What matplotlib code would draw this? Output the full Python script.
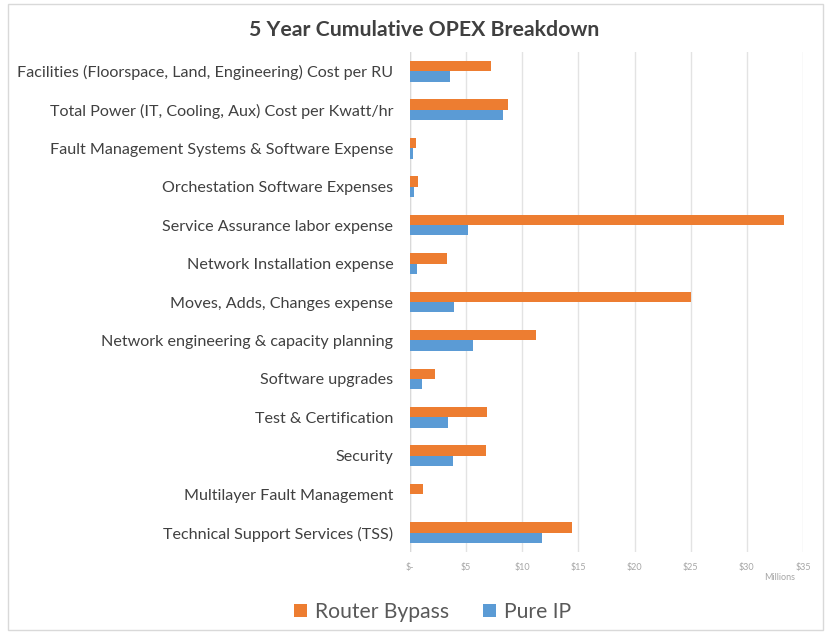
import numpy as np
import matplotlib.pyplot as plt
from matplotlib.patches import Rectangle

plt.rcParams['font.family'] = ['Lato', 'DejaVu Sans']

categories = [
    "Facilities (Floorspace, Land, Engineering) Cost per RU",
    "Total Power (IT, Cooling, Aux) Cost per Kwatt/hr",
    "Fault Management Systems & Software Expense",
    "Orchestation Software Expenses",
    "Service Assurance labor expense",
    "Network Installation expense",
    "Moves, Adds, Changes expense",
    "Network engineering & capacity planning",
    "Software upgrades",
    "Test & Certification",
    "Security",
    "Multilayer Fault Management",
    "Technical Support Services (TSS)",
]
router_bypass = [7.2, 8.75, 0.5, 0.75, 33.3, 3.3, 25.0, 11.2, 2.2, 6.9, 6.8, 1.2, 14.4]
pure_ip = [3.6, 8.25, 0.3, 0.35, 5.2, 0.6, 3.9, 5.6, 1.1, 3.4, 3.85, 0.0, 11.8]
tick_vals = [0, 5, 10, 15, 20, 25, 30, 35]
tick_labels = ["$-", "$5", "$10", "$15", "$20", "$25", "$30", "$35"]

orange = "#ED7D31"
blue = "#5B9BD5"

fig = plt.figure(figsize=(8.25, 6.32), dpi=100)
ax = fig.add_axes([410/825, 1-552/632, (803-410)/825, (552-52)/632])

y = np.arange(len(categories))
h = 0.27
ax.barh(y - h/2, router_bypass, height=h, color=orange, label="Router Bypass", zorder=3)
ax.barh(y + h/2, pure_ip, height=h, color=blue, label="Pure IP", zorder=3)

ax.set_ylim(len(categories) - 0.5, -0.5)
ax.set_xlim(0, 35)
ax.set_yticks(y)
ax.set_yticklabels(categories, fontsize=11.6, color="#404040")
ax.set_xticks(tick_vals)
ax.set_xticklabels(tick_labels, fontsize=6.5, color="#A6A6A6")
ax.tick_params(axis='both', length=0)
ax.tick_params(axis='y', pad=12)
ax.tick_params(axis='x', pad=8)
ax.grid(axis='x', color="#E3E3E3", linewidth=1, zorder=0)
for s in ax.spines.values():
    s.set_visible(False)
ax.axvline(0, color="#D9D9D9", linewidth=1, zorder=2)

fig.text(780/825, 1-578/632, "Millions", fontsize=6.5, color="#A6A6A6", ha='center', va='center')
fig.text(424/825, 1-30/632, "5 Year Cumulative OPEX Breakdown", fontsize=15.3,
         fontweight='bold', color="#404040", ha='center', va='center')

leg = fig.legend(loc='center', bbox_to_anchor=(433/825, 1-612/632), ncol=2, frameon=False,
                 fontsize=15.2, handlelength=0.6, handleheight=0.6, columnspacing=1.6,
                 handletextpad=0.4)
for t in leg.get_texts():
    t.set_color("#595959")

fig.patches.append(Rectangle((8/825, 2/632), 815/825, 626/632, transform=fig.transFigure,
                             fill=False, edgecolor="#D9D9D9", linewidth=1))

fig.savefig("out.png", dpi=100)
